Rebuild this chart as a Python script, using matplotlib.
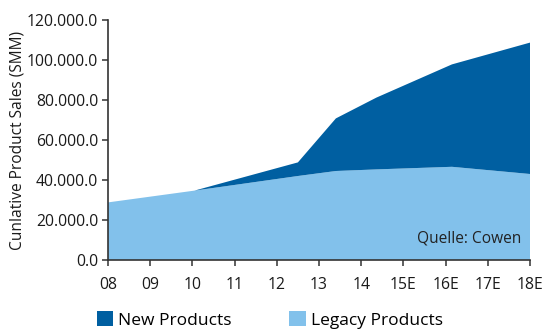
import matplotlib.pyplot as plt
from matplotlib.patches import Patch
from matplotlib.ticker import FuncFormatter

plt.rcParams['font.family'] = ['Open Sans', 'DejaVu Sans']

# x labels and the (uneven) positions where the curves bend
years = ["08", "09", "10", "11", "12", "13", "14", "15E", "16E", "17E", "18E"]
x_pos = [0, 2.05, 4.5, 5.4, 6.36, 8.15, 10]

# values in thousands
legacy = [28800, 34700, 42000, 44500, 45300, 46600, 43000]
total = [28800, 34700, 48800, 70800, 81200, 97800, 108700]
new = [t - l for t, l in zip(total, legacy)]

dark = "#005FA1"
light = "#82C1EB"

fig = plt.figure(figsize=(5.44, 3.31), dpi=100)
ax = fig.add_axes([108 / 544, 1 - 260 / 331, 422 / 544, 240 / 331])

ax.stackplot(x_pos, legacy, new, colors=[light, dark], linewidth=0)

ax.set_xlim(0, 10)
ax.set_ylim(0, 120000)
ax.set_xticks(range(len(years)))
ax.set_xticklabels(years)
ax.set_yticks(range(0, 120001, 20000))
ax.yaxis.set_major_formatter(FuncFormatter(lambda v, p: f"{v:,.1f}".replace(",", ".")))

for s in ["top", "right"]:
    ax.spines[s].set_visible(False)
for s in ["left", "bottom"]:
    ax.spines[s].set_color("#333333")
    ax.spines[s].set_linewidth(1.2)
ax.tick_params(axis="both", colors="#333333", labelcolor="#1a1a1a", labelsize=11.3,
               length=4, width=1.1)
ax.tick_params(axis="x", pad=8)
ax.tick_params(axis="y", pad=3)

ax.set_ylabel("Cunlative Product Sales (SMM)", fontsize=11.2, color="#1a1a1a")
ax.yaxis.set_label_coords(-82 / 422, 0.5)
ax.text(0.979, 0.055, "Quelle: Cowen", transform=ax.transAxes, ha="right", va="bottom",
        fontsize=11.2, color="#222222")

handles = [Patch(facecolor=dark, label="New Products"),
           Patch(facecolor=light, label="Legacy Products")]
fig.legend(handles=handles, loc="lower left", bbox_to_anchor=(81 / 544, -0.04), ncol=2,
           frameon=False, fontsize=12.5, handlelength=0.95, handleheight=0.95,
           handletextpad=0.3, columnspacing=3.3)

fig.savefig("out.png", dpi=100)
